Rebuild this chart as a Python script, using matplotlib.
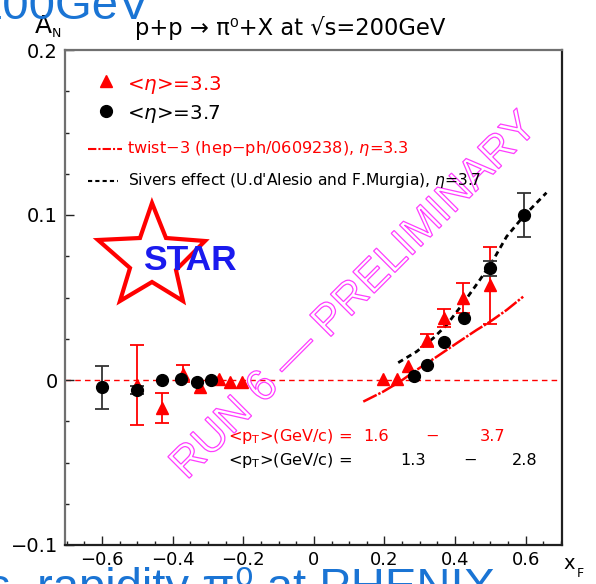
import numpy as np
import matplotlib
matplotlib.use("Agg")
import matplotlib.pyplot as plt
from matplotlib.lines import Line2D
from matplotlib.patches import Polygon, PathPatch
from matplotlib.textpath import TextPath
from matplotlib.font_manager import FontProperties
from matplotlib.transforms import Affine2D
from matplotlib.ticker import MultipleLocator

# <eta> = 3.7 (black circles)
eta37_x = np.array([-0.60, -0.50, -0.43, -0.375, -0.33, -0.29, 0.285, 0.32, 0.37, 0.425, 0.50, 0.595])
eta37_y = np.array([-0.0045, -0.006, 0.0003, 0.0008, -0.0015, 0.0, 0.0025, 0.009, 0.023, 0.0375, 0.0676, 0.100])
eta37_err = np.array([0.013, 0.0024, 0, 0, 0, 0, 0, 0, 0, 0, 0.0045, 0.0133])

# <eta> = 3.3 (red triangles)
eta33_x = np.array([-0.50, -0.43, -0.372, -0.323, -0.27, -0.238, -0.204,
                    0.196, 0.235, 0.267, 0.32, 0.368, 0.423, 0.499])
eta33_y = np.array([-0.003, -0.017, 0.0039, -0.004, 0.0007, -0.001, -0.001,
                    0.0006, 0.0006, 0.0085, 0.024, 0.0376, 0.0497, 0.0573])
eta33_err = np.array([0.0242, 0.009, 0.005, 0, 0, 0, 0,
                      0, 0, 0, 0.0038, 0.0055, 0.009, 0.0233])

# model curves
twist3_x = [0.14, 0.196, 0.244, 0.291, 0.348, 0.404, 0.461, 0.499, 0.546, 0.593]
twist3_y = [-0.0131, -0.0071, -0.0010, 0.0061, 0.0141, 0.0222, 0.0303, 0.0353, 0.0424, 0.0505]
sivers_x = [0.239, 0.291, 0.338, 0.376, 0.423, 0.470, 0.508, 0.546, 0.593, 0.659]
sivers_y = [0.0105, 0.0172, 0.0253, 0.0333, 0.0465, 0.0606, 0.0727, 0.0869, 0.099, 0.1135]

x_ticks = [-0.6, -0.4, -0.2, 0, 0.2, 0.4, 0.6]
x_ticklabels = ["\u22120.6", "\u22120.4", "\u22120.2", "0", "0.2", "0.4", "0.6"]
y_ticks = [-0.1, 0, 0.1, 0.2]
y_ticklabels = ["\u22120.1", "0", "0.1", "0.2"]

W, H = 596, 584
RED = "#ff0000"
BLUE_SLIDE = "#1a74d4"
SLIDE_FONT = ["Liberation Sans", "DejaVu Sans"]


def fx(px):
    return px / W


def fy(py):
    return 1 - py / H


fig = plt.figure(figsize=(W / 100, H / 100), dpi=100)
ax = fig.add_axes([fx(65), fy(545), (562 - 65) / W, (545 - 50) / H])
ax.set_xlim(-0.705, 0.703)
ax.set_ylim(-0.1, 0.2)

ax.axhline(0, color=RED, lw=1, ls=(0, (4, 3)), zorder=1)

# theory curves
ax.plot(twist3_x, twist3_y, color=RED, lw=1.8, ls=(0, (6, 0.7, 1, 0.7)), zorder=2)
ax.plot(sivers_x, sivers_y, color="black", lw=2, ls=(0, (2, 1.5)), zorder=2)

# data with error bars
m = eta33_err > 0
ax.errorbar(eta33_x[m], eta33_y[m], yerr=eta33_err[m], fmt="none",
            ecolor=RED, elinewidth=1.3, capsize=5, capthick=1.3, zorder=3)
ax.plot(eta33_x, eta33_y, "^", color=RED, ms=9, mec=RED, zorder=4)
m = eta37_err > 0
ax.errorbar(eta37_x[m], eta37_y[m], yerr=eta37_err[m], fmt="none",
            ecolor="#333333", elinewidth=1.3, capsize=5, capthick=1.3, zorder=3)
ax.plot(eta37_x, eta37_y, "o", color="black", ms=8.5, zorder=4)

# axes styling, ROOT-like inward ticks
ax.set_xticks(x_ticks)
ax.set_xticklabels(x_ticklabels)
ax.set_yticks(y_ticks)
ax.set_yticklabels(y_ticklabels)
ax.xaxis.set_minor_locator(MultipleLocator(0.05))
ax.yaxis.set_minor_locator(MultipleLocator(0.025))
ax.tick_params(which="both", direction="in", color="#222222", width=1)
ax.tick_params(which="major", length=6.5)
ax.tick_params(which="minor", length=3)
ax.tick_params(axis="x", labelsize=13, pad=4)
ax.tick_params(axis="y", labelsize=14, pad=5)
for side in ("left", "top"):
    ax.spines[side].set_color("#707070")
for side in ("right", "bottom"):
    ax.spines[side].set_color("#202020")
for s in ax.spines.values():
    s.set_linewidth(1.6)

# axis titles
fig.text(fx(35), fy(33), "A", fontsize=18, va="baseline")
fig.text(fx(52), fy(37), "N", fontsize=9, va="baseline")
fig.text(fx(563), fy(569), "x", fontsize=14, va="baseline")
fig.text(fx(577), fy(577), "F", fontsize=9, va="baseline")
fig.text(fx(135), fy(35), "p+p \u2192 \u03c0\u2070+X at \u221as=200GeV", fontsize=16.3, va="baseline")

# legend
fig.add_artist(Line2D([fx(106)], [fy(81)], marker="^", color=RED, ms=9, ls="none"))
fig.text(fx(127), fy(90), "<$\\eta$>=3.3", color=RED, fontsize=14.3, va="baseline")
fig.add_artist(Line2D([fx(106)], [fy(111)], marker="o", color="black", ms=8.5, ls="none"))
fig.text(fx(127), fy(119), "<$\\eta$>=3.7", color="black", fontsize=14.3, va="baseline")
fig.add_artist(Line2D([fx(88), fx(122)], [fy(149), fy(149)], color=RED, lw=1.5, ls=(0, (4, 1, 1, 1))))
fig.text(fx(127), fy(153), "twist\u22123 (hep\u2212ph/0609238), $\\eta$=3.3", color=RED, fontsize=11.6, va="baseline")
fig.add_artist(Line2D([fx(88), fx(118)], [fy(181), fy(181)], color="black", lw=1.5, ls=(0, (2, 1.5))))
fig.text(fx(128), fy(185), "Sivers effect (U.d'Alesio and F.Murgia), $\\eta$=3.7", color="black", fontsize=11.2, va="baseline")

# <pT> ranges
fig.text(fx(228), fy(441), "<p$_{\\rm T}$>(GeV/c) =", color=RED, fontsize=11.6, va="baseline")
fig.text(fx(363), fy(441), "1.6", color=RED, fontsize=11.6, va="baseline")
fig.text(fx(432), fy(441), "\u2212", color=RED, fontsize=11.6, va="baseline", ha="center")
fig.text(fx(480), fy(441), "3.7", color=RED, fontsize=11.6, va="baseline")
fig.text(fx(228), fy(465), "<p$_{\\rm T}$>(GeV/c) =", color="black", fontsize=11.6, va="baseline")
fig.text(fx(400), fy(465), "1.3", color="black", fontsize=11.6, va="baseline")
fig.text(fx(470), fy(465), "\u2212", color="black", fontsize=11.6, va="baseline", ha="center")
fig.text(fx(512), fy(465), "2.8", color="black", fontsize=11.6, va="baseline")

# STAR logo
star_px = [(152, 203), (166, 238), (205, 241), (176, 270), (183, 301),
           (152, 282), (120, 301), (130, 268), (98, 240), (140, 238)]
fig.add_artist(Polygon([(fx(a), fy(b)) for a, b in star_px], closed=True,
                       fill=False, ec=RED, lw=3, joinstyle="miter"))
fig.text(fx(190), fy(260), "STAR", color="#1a1aee", fontsize=25.5, fontweight="bold",
         family="Liberation Sans", ha="center", va="center")

# preliminary watermark as outlined letters
tp = TextPath((0, 0), "RUN 6 \u2014 PRELIMINARY", size=44,
              prop=FontProperties(family="Liberation Sans"))
bb = tp.get_extents()
tr = (Affine2D().translate(-bb.x0 - bb.width / 2, -bb.y0 - bb.height / 2)
      .rotate_deg(45).translate(353, H - 293))
fig.add_artist(PathPatch(tr.transform_path(tp), fc="none", ec="#ff3cff", lw=0.9,
                         transform=Affine2D().scale(1 / W, 1 / H) + fig.transFigure))

# slide headings cut by the frame
fig.text(fx(150), fy(19), "200GeV", color=BLUE_SLIDE, fontsize=34,
         family=SLIDE_FONT, ha="right", va="baseline")
fig.text(fx(495), fy(601), "Asymmetry vs. rapidity \u03c0\u2070 at PHENIX", color=BLUE_SLIDE,
         fontsize=34, family=SLIDE_FONT, ha="right", va="baseline")

fig.savefig("out.png", dpi=100)
